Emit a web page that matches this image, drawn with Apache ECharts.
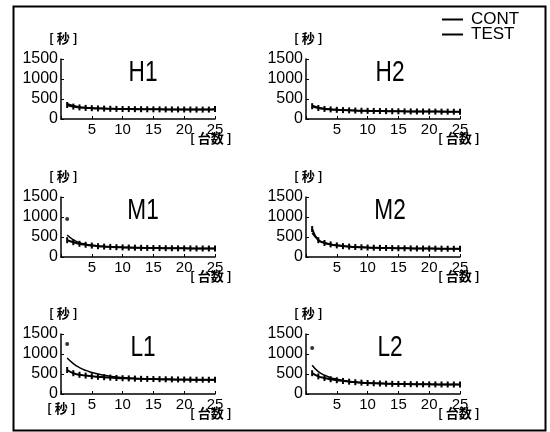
<!DOCTYPE html>
<html><head><meta charset="utf-8">
<script src="https://cdn.jsdelivr.net/npm/echarts@6/dist/echarts.min.js"></script>
<style>html,body{margin:0;padding:0;background:#fff}#c{width:550px;height:432px}</style>
</head><body><div id="c"></div>
<script>
const units = [1,2,3,4,5,6,7,8,9,10,11,12,13,14,15,16,17,18,19,20,21,22,23,24,25];
const panelNames = ['H1','H2','M1','M2','L1','L2'];
const yTicks = [0,500,1000,1500];
const xTicks = [5,10,15,20,25];
const contH1 = [380,330,300,285,275,268,262,258,255,252,250,248,246,244,243,242,241,240,239,238,237,236,236,235,235];
const testH1 = [350,310,290,278,270,264,260,256,253,250,248,246,245,243,242,241,240,239,238,238,237,236,235,235,250];
const contH2 = [340,290,260,245,235,225,218,212,208,205,202,199,197,195,193,191,190,189,188,187,186,185,184,183,182];
const testH2 = [320,275,252,240,230,222,216,211,207,204,201,199,196,194,192,190,189,188,187,186,185,184,183,182,181];
const contM1 = [550,430,360,320,295,278,265,255,248,242,237,233,230,227,225,223,221,219,218,217,216,215,214,213,212];
const testM1 = [420,370,330,305,285,270,260,252,245,240,236,232,229,226,224,222,220,219,217,216,215,214,213,212,211];
const contM2 = [600,430,360,320,295,275,262,252,245,238,233,229,226,223,220,218,216,214,212,211,210,209,208,207,206];
const testM2 = [700,420,350,315,290,272,260,250,243,237,232,228,225,222,219,217,215,213,211,210,209,208,207,206,205];
const contL1 = [900,760,660,590,540,500,470,445,425,410,398,388,380,374,369,365,362,359,357,355,353,352,351,350,349];
const testL1 = [600,520,480,460,445,430,420,410,400,395,390,385,380,377,374,371,368,366,364,362,360,358,357,356,355];
const contL2 = [720,560,470,410,370,340,318,300,287,277,270,264,259,255,252,249,247,245,243,242,241,240,239,238,237];
const testL2 = [520,440,400,370,345,325,308,295,284,275,268,262,258,254,251,248,246,244,242,241,240,239,238,237,236];
const outliers = [null,null,950,null,1250,1150];

const contAll = [contH1,contH2,contM1,contM2,contL1,contL2];
const testAll = [testH1,testH2,testM1,testM2,testL1,testL2];

const SANS = "'Liberation Sans',Arial,sans-serif";
const CJK = "'Noto Sans CJK JP','Noto Sans CJK SC',sans-serif";
const colLeft = [61, 306];
const rowTop = [59, 197, 334];
const W = 154, H = 60;

const grids = [], xAxes = [], yAxes = [], series = [], graphics = [];
for (let i = 0; i < 6; i++) {
  const c = i % 2, r = Math.floor(i / 2);
  const gl = colLeft[c], gt = rowTop[r];
  grids.push({left: gl, top: gt, width: W, height: H, containLabel: false});
  xAxes.push({type: 'value', gridIndex: i, min: 0, max: 25, interval: 5,
    axisLine: {show: true, lineStyle: {color: '#000', width: 1.5}},
    axisTick: {show: true, inside: true, length: 3, lineStyle: {color: '#000'}},
    splitLine: {show: false},
    axisLabel: {color: '#000', fontFamily: SANS, fontSize: 15, margin: 3,
      formatter: v => (xTicks.indexOf(v) >= 0 ? String(v) : '')}});
  yAxes.push({type: 'value', gridIndex: i, min: 0, max: 1500, interval: 500,
    axisLine: {show: true, lineStyle: {color: '#000', width: 1.5}},
    axisTick: {show: true, inside: true, length: 3, lineStyle: {color: '#000'}},
    splitLine: {show: false},
    axisLabel: {color: '#000', fontFamily: SANS, fontSize: 16, margin: 3,
      formatter: v => (yTicks.indexOf(v) >= 0 ? String(v) : '')}});
  series.push({name: 'CONT', type: 'line', xAxisIndex: i, yAxisIndex: i,
    data: units.map((u, k) => [u, contAll[i][k]]), smooth: true, showSymbol: false,
    lineStyle: {color: '#000', width: 1.5}, itemStyle: {color: '#000'}, silent: true});
  series.push({name: 'TEST', type: 'line', xAxisIndex: i, yAxisIndex: i,
    data: units.map((u, k) => [u, testAll[i][k]]), smooth: true, showSymbol: true,
    symbol: 'rect', symbolSize: [2, 6],
    lineStyle: {color: '#000', width: 2}, itemStyle: {color: '#000'}, silent: true});
  if (outliers[i] !== null) {
    series.push({name: 'pt', type: 'scatter', xAxisIndex: i, yAxisIndex: i,
      data: [[1, outliers[i]]], symbol: 'circle', symbolSize: 4,
      itemStyle: {color: '#000'}, silent: true});
  }
  graphics.push({type: 'text', x: gl + 82 + (c ? 2 : 0), y: gt + 13.5, scaleX: 0.78,
    style: {text: panelNames[i], font: '29px ' + SANS, fill: '#000',
      textAlign: 'center', textVerticalAlign: 'middle'}});
  graphics.push({type: 'text', left: gl - 12, top: gt - 27,
    style: {text: '[ 秒 ]', font: 'bold 13px ' + CJK, fill: '#000'}});
  graphics.push({type: 'text', left: gl + 130 + (c ? 2 : -1), top: gt + 73,
    style: {text: '[ 台数 ]', font: 'bold 13px ' + CJK, fill: '#000'}});
}
graphics.push({type: 'text', left: 47, top: 402,
  style: {text: '[ 秒 ]', font: 'bold 13px ' + CJK, fill: '#000'}});
graphics.push({type: 'rect', left: 11, top: 4, shape: {width: 532, height: 424},
  style: {fill: 'none', stroke: '#000', lineWidth: 2}});

const chart = echarts.init(document.getElementById('c'), null, {renderer: 'canvas'});
chart.setOption({
  animation: false,
  backgroundColor: '#fff',
  legend: {data: ['CONT', 'TEST'], orient: 'vertical', left: 437, top: 6,
    icon: 'rect', itemWidth: 21, itemHeight: 2, itemGap: -2,
    textStyle: {color: '#000', fontFamily: SANS, fontSize: 17, lineHeight: 15, padding: [0,0,0,3]},
    selectedMode: false},
  grid: grids, xAxis: xAxes, yAxis: yAxes, series: series,
  graphic: graphics
});
</script></body></html>
